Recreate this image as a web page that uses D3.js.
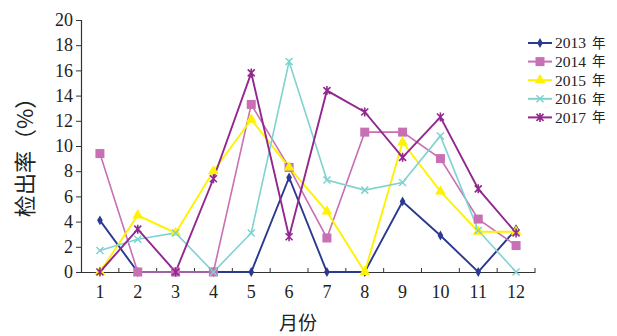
<!DOCTYPE html>
<html><head><meta charset="utf-8">
<script src="https://cdn.jsdelivr.net/npm/d3@7"></script>
<style>body{margin:0;background:#fff}svg{display:block}</style>
</head><body>
<svg id="c" width="617" height="336"></svg>
<script>
const months = ["1","2","3","4","5","6","7","8","9","10","11","12"];
const yTicks = [0,2,4,6,8,10,12,14,16,18,20];
const seriesNames = ["2013 年","2014 年","2015 年","2016 年","2017 年"];
const s2013 = [4.1,0,0,0,0,7.5,0,0,5.6,2.9,0,3.4];
const s2014 = [9.4,0,0,0,13.3,8.3,2.7,11.1,11.1,9.0,4.2,2.1];
const s2015 = [0,4.5,3.1,8.0,12.1,8.3,4.8,0,10.3,6.4,3.2,3.2];
const s2016 = [1.7,2.6,3.1,0,3.1,16.7,7.3,6.5,7.1,10.8,3.3,0];
const s2017 = [0,3.4,0,7.4,15.8,2.8,14.4,12.7,9.1,12.3,6.6,3.1];
const colors = ["#2b3990","#c96fb3","#fff200","#7ed3cf","#91278f"];
const markers = ["diamond","square","triangle","cross","star"];
const allSeries = [s2013,s2014,s2015,s2016,s2017];

const svg = d3.select("#c");
const L = 81, R = 535, T = 20, B = 272;
const x = d3.scaleBand().domain(months).range([L,R]);
const y = d3.scaleLinear().domain([0,20]).range([B,T]);
const serif = "'Liberation Serif','Times New Roman',serif";
const cjk = "'Noto Sans CJK SC',sans-serif";

// y axis
const ya = svg.append("g").attr("transform",`translate(${L},0)`)
  .call(d3.axisLeft(y).tickValues(yTicks).tickSize(5).tickPadding(3));
ya.select(".domain").attr("stroke","#333").attr("stroke-width",1.2);
ya.selectAll(".tick line").attr("stroke","#333");
ya.selectAll("text").attr("font-family",serif).attr("font-size",18).attr("fill","#222");

// x axis
const xa = svg.append("g").attr("transform",`translate(0,${B})`)
  .call(d3.axisBottom(x).tickSize(0).tickPadding(0));
xa.select(".domain").attr("stroke","#333").attr("stroke-width",1.2);
xa.selectAll("text").attr("font-family",serif).attr("font-size",18).attr("fill","#222")
  .attr("y",20).attr("dy","0.35em");
// boundary ticks pointing up
xa.selectAll(".bt").data(d3.range(1,13)).enter().append("line")
  .attr("x1",i=>L+i*x.step()).attr("x2",i=>L+i*x.step())
  .attr("y1",0).attr("y2",-4).attr("stroke","#333");

function marker(g, type, color){
  if(type==="diamond"){
    g.append("path").attr("d",d3.symbol(d3.symbolDiamond,28)()).attr("fill",color);
  } else if(type==="square"){
    g.append("rect").attr("x",-4.5).attr("y",-4.5).attr("width",9).attr("height",9).attr("fill",color);
  } else if(type==="triangle"){
    g.append("path").attr("d",d3.symbol(d3.symbolTriangle,50)()).attr("fill",color);
  } else if(type==="cross"){
    g.append("path").attr("d","M-3.5,-3.5L3.5,3.5M-3.5,3.5L3.5,-3.5").attr("stroke",color).attr("stroke-width",1.5);
  } else {
    g.append("path").attr("d","M-3.5,-3.5L3.5,3.5M-3.5,3.5L3.5,-3.5M0,-4.5L0,4.5").attr("stroke",color).attr("stroke-width",1.6);
  }
}

const line = d3.line().x((d,i)=>x(months[i])+x.bandwidth()/2).y(d=>y(d));
allSeries.forEach((s,k)=>{
  svg.append("path").datum(s).attr("d",line).attr("fill","none")
    .attr("stroke",colors[k]).attr("stroke-width",k===1||k===3?1.6:1.9);
});
allSeries.forEach((s,k)=>{
  s.forEach((v,i)=>{
    const g = svg.append("g").attr("transform",`translate(${x(months[i])+x.bandwidth()/2},${y(v)})`);
    marker(g, markers[k], colors[k]);
  });
});

// legend
const lg = svg.append("g");
seriesNames.forEach((n,k)=>{
  const yy = 43 + k*18.6;
  lg.append("line").attr("x1",528).attr("x2",552).attr("y1",yy).attr("y2",yy)
    .attr("stroke",colors[k]).attr("stroke-width",2);
  const g = lg.append("g").attr("transform",`translate(540,${yy})`);
  marker(g, markers[k], colors[k]);
  const parts = n.split(" ");
  lg.append("text").attr("x",555).attr("y",yy).attr("dy","0.35em")
    .attr("font-family",serif).attr("font-size",15.5).attr("fill","#222").text(parts[0]);
  lg.append("text").attr("x",592).attr("y",yy).attr("dy","0.35em")
    .attr("font-family",cjk).attr("font-size",13.5).attr("fill","#222").text(parts[1]);
});

// axis titles
svg.append("text").attr("transform","translate(25,152) rotate(-90)")
  .attr("text-anchor","middle").attr("dy","0.35em")
  .attr("font-family",cjk).attr("font-size",22).attr("fill","#222").text("检出率（%）");
svg.append("text").attr("x",298).attr("y",323).attr("text-anchor","middle").attr("dy","0.35em")
  .attr("font-family",cjk).attr("font-size",19).attr("fill","#222").text("月份");
</script>
</body></html>
